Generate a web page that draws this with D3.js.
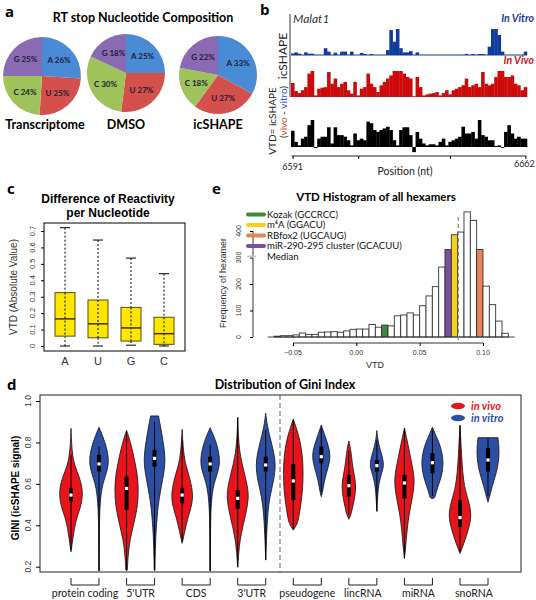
<!DOCTYPE html>
<html><head><meta charset="utf-8">
<script src="https://cdn.jsdelivr.net/npm/d3@7"></script>
<style>body{margin:0;background:#fff} svg{display:block}</style>
</head><body><svg id="c" width="536" height="600"></svg>
<script>
// ---------------- DATA ----------------
// Panel a
const pieNucleotides = ["A","U","C","G"];
const pieSamples = ["Transcriptome","DMSO","icSHAPE"];
const pieTranscriptome = [26,25,24,25];
const pieDMSO = [25,27,30,18];
const pieIcSHAPE = [33,27,18,22];

// Panel b (Malat1 6591-6662, relative signal)
const posStart = 6591, posEnd = 6662;
const posTicks = [6591, 6611, 6639, 6662];
const vitroSignal = [0.06,0.10,0.05,0,0.10,0.05,0.05,0,0,0, 0.26,0.13,0,0.09,0,0.13,0.13,0,0.13,0, 0,0.08,0.04,0,0.04,0,0,0,0,0.19, 0.96,0.51,1.0,0.26,0.10,0.10,0.15,0,0.10,0, 0,0,0,0,0,0,0,0,0,0, 0,0,0,0.04,0,0.04,0,0.04,0.04,0, 0.32,1.0,1.0,0.77,0.13,0,0,0,0,0, 0,0.13];
const vivoSignal = [0.54,0.23,0.15,0.26,0.38,0.90,1.0,0.06,0.32,0.36, 0.38,0.96,0.51,0.71,0.38,0.51,0.58,0.26,0.13,0.58, 0.06,0.32,0.38,0.90,0.51,0.38,0.19,0.45,0.58,0.71, 0.83,1.0,1.0,1.0,0.90,0.77,0.71,0.03,0.77,0.38, 0.06,0.10,0.13,0.15,0.19,0.06,0.15,0.26,0.10,0.26, 0.32,0.38,0.45,0.71,0.38,0.45,0.51,0.38,0.96,0.51, 0.45,0.51,0.77,1.0,1.0,0.77,0.77,0.83,0.51,0.45, 0.26,0.38];
const vtdSignal = [0.60,0.19,0.06,0.31,0.38,0.81,1.0,-0.04,0.31,0.38, 0.38,0.73,0.13,0.73,0.44,0.44,0.38,0.25,0.06,0.50, 0.25,0.31,0.25,0.94,0.88,0.63,0.56,0.63,0.69,0.75, 0.63,0.25,0.06,0.63,0.73,0.73,0.44,-0.19,0.56,0.31, 0.13,0.06,0.10,0.10,0.06,0.19,0.31,0.06,0.19,0.25, 0.31,0.38,0.75,0.50,0.50,0.56,0.31,1.0,0.44,0.38, 0.25,0.25,0.04,0.06,-0.03,0.56,0.81,0.50,0.31,0.38, 0.31,0.31];

// Panel c
const boxNucleotides = ["A","U","G","C"];
const boxWhiskerLow = [0, 0, 0.005, 0];
const boxQ1 = [0.06, 0.05, 0.03, 0.01];
const boxMedian = [0.165, 0.135, 0.11, 0.075];
const boxQ3 = [0.325, 0.28, 0.235, 0.175];
const boxWhiskerHigh = [0.72, 0.645, 0.535, 0.44];
const boxTicks = [0,0.1,0.2,0.3,0.4,0.5,0.6,0.7];

// Panel e
const histBinStart = [-0.065,-0.060,-0.055,-0.050,-0.045,-0.040,-0.035,-0.030,-0.025,-0.020,-0.015,-0.010,-0.005,0.000,0.005,0.010,0.015,0.020,0.025,0.030,0.035,0.040,0.045,0.050,0.055,0.060,0.065,0.070,0.075,0.080,0.085,0.090,0.095,0.100,0.105,0.110,0.115];
const histCounts = [3,5,5,8,15,9,10,18,19,20,18,23,29,30,30,47,37,45,42,80,83,91,83,118,155,190,264,330,386,396,472,440,330,192,122,60,14];
const histBinWidth = 0.005;
const histMedian = 0.0805;
const motifNames = ["Kozak (GCCRCC)","m\u2076A (GGACU)","RBfox2 (UGCAUG)","miR-290-295 cluster (GCACUU)"];
const motifBins = [0.020, 0.075, 0.095, 0.070];
const histXTicks = [-0.05, 0.00, 0.05, 0.10];
const histYTicks = [0,100,200,300,400];

// Panel d
const giniGroups = ["protein coding","5'UTR","CDS","3'UTR","pseudogene","lincRNA","miRNA","snoRNA"];
const giniTicks = [0.2,0.4,0.6,0.8,1.0];
// density profiles [gini, relative density]
const vivoProfiles = [
 [[0.868,0],[0.748,0.08],[0.683,0.33],[0.635,0.69],[0.586,0.92],[0.546,0.97],[0.49,0.83],[0.442,0.5],[0.385,0.28],[0.329,0.14],[0.272,0]],
 [[0.857,0],[0.812,0.28],[0.731,0.61],[0.651,0.89],[0.578,1.0],[0.49,0.92],[0.409,0.61],[0.329,0.28],[0.264,0.14],[0.184,0.06]],
 [[0.863,0],[0.748,0.11],[0.683,0.33],[0.619,0.69],[0.546,0.92],[0.49,0.78],[0.425,0.42],[0.369,0.22],[0.313,0]],
 [[0.921,0],[0.812,0.06],[0.731,0.22],[0.651,0.56],[0.586,0.83],[0.53,0.92],[0.458,0.69],[0.393,0.42],[0.329,0.19],[0.264,0.08],[0.197,0]],
 [[0.912,0],[0.876,0.22],[0.812,0.56],[0.731,0.78],[0.651,0.83],[0.57,0.78],[0.49,0.61],[0.425,0.42],[0.401,0.28],[0.377,0]],
 [[0.807,0],[0.764,0.17],[0.699,0.28],[0.651,0.42],[0.595,0.61],[0.538,0.5],[0.49,0.33],[0.45,0.17],[0.429,0]],
 [[0.868,0],[0.812,0.22],[0.731,0.5],[0.651,0.78],[0.603,0.83],[0.538,0.69],[0.458,0.39],[0.377,0.22],[0.297,0.11],[0.24,0]],
 [[0.884,0],[0.764,0.11],[0.651,0.22],[0.57,0.42],[0.506,0.78],[0.442,0.97],[0.377,0.69],[0.329,0.42],[0.289,0.17],[0.264,0]]
];
const vitroProfiles = [
 [[0.873,0],[0.828,0.33],[0.78,0.61],[0.731,0.78],[0.691,0.78],[0.651,0.61],[0.603,0.33],[0.554,0.17],[0.49,0.08],[0.409,0.03],[0.18,0.02]],
 [[0.928,0.33],[0.876,0.5],[0.812,0.69],[0.723,0.92],[0.651,0.78],[0.57,0.5],[0.49,0.28],[0.409,0.17],[0.329,0.08],[0.184,0.03]],
 [[0.871,0],[0.828,0.33],[0.78,0.61],[0.731,0.78],[0.691,0.78],[0.651,0.61],[0.603,0.33],[0.554,0.17],[0.49,0.08],[0.409,0.03],[0.18,0.02]],
 [[0.941,0],[0.876,0.14],[0.812,0.42],[0.748,0.69],[0.691,0.83],[0.619,0.69],[0.538,0.33],[0.458,0.17],[0.361,0.08],[0.232,0]],
 [[0.884,0],[0.828,0.33],[0.78,0.61],[0.739,0.75],[0.699,0.67],[0.651,0.42],[0.603,0.22],[0.562,0.11],[0.538,0]],
 [[0.857,0],[0.796,0.11],[0.739,0.42],[0.691,0.61],[0.651,0.39],[0.603,0.17],[0.554,0.08],[0.466,0]],
 [[0.873,0],[0.828,0.33],[0.78,0.69],[0.715,0.92],[0.651,0.83],[0.603,0.56],[0.554,0.28],[0.53,0.2],[0.529,0]],
 [[0.823,0.83],[0.78,0.92],[0.715,0.92],[0.651,0.69],[0.586,0.33],[0.538,0.14],[0.511,0]]
];
// [whiskerLow, Q1, median, Q3, whiskerHigh]
const vivoStats = [
 [0.28,0.514,0.546,0.578,0.74],[0.18,0.474,0.578,0.635,0.857],[0.32,0.506,0.546,0.578,0.81],[0.2,0.48,0.53,0.57,0.92],
 [0.38,0.522,0.614,0.696,0.91],[0.45,0.539,0.591,0.643,0.76],[0.24,0.53,0.604,0.643,0.87],[0.27,0.393,0.437,0.522,0.88]
];
const vitroStats = [
 [0.18,0.66,0.696,0.74,0.78],[0.18,0.683,0.723,0.764,0.90],[0.18,0.659,0.696,0.731,0.79],[0.232,0.66,0.691,0.731,0.86],
 [0.56,0.70,0.731,0.78,0.87],[0.47,0.659,0.688,0.715,0.81],[0.54,0.651,0.702,0.748,0.86],[0.54,0.659,0.715,0.772,0.82]
];

// ---------------- DRAW ----------------
const svg = d3.select("#c");
const SANS = "Lato, 'Open Sans', sans-serif";
const RF = "'Liberation Sans', Arial, sans-serif";

function txt(x,y,s,o={}){
  const t = svg.append("text").attr("x",x).attr("y",y).text(s)
    .style("font-family",o.ff||SANS).style("font-size",(o.fs||10)+"px")
    .style("font-weight",o.fw||"normal").style("font-style",o.fst||"normal")
    .attr("fill",o.fill||"#000").attr("text-anchor",o.a||"start");
  if(o.rot!=null) t.attr("transform",`rotate(${o.rot},${x},${y})`);
  return t;
}

// panel letters
[["a",5,17],["b",260,15],["c",7,194],["e",212,194],["d",7,390]].forEach(d=>txt(d[1],d[2],d[0],{fs:15,fw:"bold",ff:"'Open Sans',sans-serif"}));

// ---- Panel a ----
txt(143,22,"RT stop Nucleotide Composition",{fs:12.5,fw:"bold",a:"middle"});
const pieColors = d3.scaleOrdinal().domain(pieNucleotides).range(["#4a8bd6","#d4504c","#9fc25a","#8a6bb3"]);
const pieCenters = [[42,76],[126,73],[218,75]];
const pieR = 39;
const pieSets = [pieTranscriptome, pieDMSO, pieIcSHAPE];
const pieGen = d3.pie().sort(null).value(d=>d.v);
const arcGen = d3.arc().innerRadius(0).outerRadius(pieR);
const labArc = d3.arc().innerRadius(pieR*0.6).outerRadius(pieR*0.6);
pieSets.forEach((vals,i)=>{
  const g = svg.append("g").attr("transform",`translate(${pieCenters[i][0]},${pieCenters[i][1]})`);
  const arcs = pieGen(vals.map((v,j)=>({v,n:pieNucleotides[j]})));
  g.selectAll("path").data(arcs).join("path").attr("d",arcGen).attr("fill",d=>pieColors(d.data.n));
  g.selectAll("text").data(arcs).join("text")
    .attr("transform",d=>`translate(${labArc.centroid(d)})`).attr("dy","0.35em")
    .attr("text-anchor","middle").style("font-family",SANS).style("font-size","8px").style("font-weight","bold")
    .attr("fill","#1b1b33").text(d=>`${d.data.n} ${d.data.v}%`);
  txt(pieCenters[i][0]+(i===0?3:0), 129, pieSamples[i], {fs:12.5, fw:"bold", a:"middle"});
});

// ---- Panel b ----
const xb = d3.scaleLinear().domain([posStart-0.5, posEnd+0.5]).range([291, 527]);
const positions = d3.range(posStart, posEnd+1);
const yVitro = d3.scaleLinear().domain([0,1]).range([55,29]);
const yVivo = d3.scaleLinear().domain([0,1]).range([97,71]);
const yVtd = d3.scaleLinear().domain([0,1]).range([147,120]);
svg.append("line").attr("x1",290).attr("x2",290).attr("y1",14).attr("y2",97).attr("stroke","#777").attr("stroke-width",1.5);
function track(vals, ys, col){
  svg.append("g").selectAll("rect").data(vals).join("rect")
    .attr("x",(d,i)=>xb(positions[i]-0.5)).attr("width",(d,i)=>xb(positions[i]+0.5)-xb(positions[i]-0.5)+0.3)
    .attr("y",d=>Math.min(ys(d),ys(0))).attr("height",d=>Math.abs(ys(d)-ys(0)))
    .attr("fill",col);
}
track(vitroSignal,yVitro,"#0f3b9c");
svg.append("line").attr("x1",xb(posStart-0.5)).attr("x2",xb(posEnd+0.5)).attr("y1",yVitro(0)).attr("y2",yVitro(0)).attr("stroke","#0f3b9c").attr("stroke-width",1);
track(vivoSignal,yVivo,"#cc0a0a");
track(vtdSignal,yVtd,"#000");
txt(293,23,"Malat1",{fs:12,fst:"italic",fill:"#333"});
txt(534,22,"In Vitro",{fs:10.5,fw:"bold",fst:"italic",fill:"#1f3a93",a:"end"});
txt(534,64,"In Vivo",{fs:10.5,fw:"bold",fst:"italic",fill:"#d0101a",a:"end"});
txt(287,56,"icSHAPE",{fs:12,a:"middle",rot:-90,fill:"#222"});
txt(276,121,"VTD= icSHAPE",{fs:10,a:"middle",rot:-90,fill:"#222"});
const vt = svg.append("text").attr("x",287).attr("y",112).attr("text-anchor","middle")
  .attr("transform","rotate(-90,287,112)").style("font-family",SANS).style("font-size","10px");
vt.append("tspan").text("(").attr("fill","#222");
vt.append("tspan").text("vivo").attr("fill","#e0502a");
vt.append("tspan").text(" - ").attr("fill","#222");
vt.append("tspan").text("vitro").attr("fill","#3355cc");
vt.append("tspan").text(")").attr("fill","#222");
svg.append("g").attr("transform","translate(0,156)")
  .call(d3.axisBottom(xb).tickValues(posTicks).tickSize(3).tickFormat(""))
  .call(g=>g.select(".domain").attr("d",`M${xb(posStart)-1},0H${xb(posEnd)+1}`).attr("stroke","#222"));
txt(xb(posStart),170,String(posStart),{fs:9,a:"middle",fill:"#222"});
txt(xb(posEnd)-1,167,String(posEnd),{fs:9,a:"middle",fill:"#222"});
txt(405,175,"Position (nt)",{fs:10.5,a:"middle",fill:"#222"});

// ---- Panel c ----
txt(108,203,"Difference of Reactivity",{fs:12,fw:"bold",a:"middle",ff:RF});
txt(108,217,"per Nucleotide",{fs:12,fw:"bold",a:"middle",ff:RF});
const yc = d3.scaleLinear().domain([0,0.7]).range([346,231]);
const xc = d3.scalePoint().domain(boxNucleotides).range([65,164]);
svg.append("rect").attr("x",44).attr("y",223).attr("width",141).attr("height",128).attr("fill","none").attr("stroke","#000");
svg.append("g").attr("transform","translate(44,0)")
  .call(d3.axisLeft(yc).tickValues(boxTicks).tickSize(3).tickFormat(""))
  .call(g=>g.select(".domain").remove());
boxTicks.forEach(t=>txt(35,yc(t),d3.format("")(t),{fs:7.5,a:"middle",rot:-90,ff:RF,fill:"#333"}));
txt(17,287,"VTD (Absolute Value)",{fs:10,a:"middle",rot:-90,ff:RF,fill:"#333"});
boxNucleotides.forEach((n,i)=>{
  const cx = xc(n), hw=10;
  const g = svg.append("g");
  g.append("line").attr("x1",cx).attr("x2",cx).attr("y1",yc(boxWhiskerHigh[i])).attr("y2",yc(boxQ3[i])).attr("stroke","#000").attr("stroke-dasharray","2,2");
  g.append("line").attr("x1",cx).attr("x2",cx).attr("y1",yc(boxQ1[i])).attr("y2",yc(boxWhiskerLow[i])).attr("stroke","#000").attr("stroke-dasharray","2,2");
  [boxWhiskerHigh[i],boxWhiskerLow[i]].forEach(v=>g.append("line").attr("x1",cx-5).attr("x2",cx+5).attr("y1",yc(v)).attr("y2",yc(v)).attr("stroke","#000"));
  g.append("rect").attr("x",cx-hw).attr("width",2*hw).attr("y",yc(boxQ3[i])).attr("height",yc(boxQ1[i])-yc(boxQ3[i]))
    .attr("fill","#ffe600").attr("stroke","#5a4a10").attr("stroke-width",1);
  g.append("line").attr("x1",cx).attr("x2",cx).attr("y1",yc(boxQ3[i])).attr("y2",yc(boxQ1[i])).attr("stroke","#000").attr("stroke-dasharray","2,2");
  g.append("line").attr("x1",cx-hw).attr("x2",cx+hw).attr("y1",yc(boxMedian[i])).attr("y2",yc(boxMedian[i])).attr("stroke","#3a3000").attr("stroke-width",1.5);
  txt(cx,365,n,{fs:11,a:"middle",ff:RF,fill:"#333"});
});

// ---- Panel e ----
txt(376,201,"VTD Histogram of all hexamers",{fs:11.5,fw:"bold",a:"middle"});
const xe = d3.scaleLinear().domain([-0.05,0.10]).range([293,483]);
const ye = d3.scaleLinear().domain([0,400]).range([337,231]);
const motifColors = ["#3f8a3c","#f7d117","#e8825a","#7a4f9c"];
const colorOfBin = b => { const k = motifBins.findIndex(m=>Math.abs(m-b)<1e-9); return k<0?"#fff":motifColors[k]; };
svg.append("g").selectAll("rect").data(histCounts).join("rect")
  .attr("x",(d,i)=>xe(histBinStart[i])).attr("width",(d,i)=>xe(histBinStart[i]+histBinWidth)-xe(histBinStart[i]))
  .attr("y",d=>ye(d)).attr("height",d=>ye(0)-ye(d))
  .attr("fill",(d,i)=>colorOfBin(histBinStart[i])).attr("stroke","#333").attr("stroke-width",0.9);
svg.append("line").attr("x1",xe(-0.07)).attr("x2",xe(0.125)).attr("y1",ye(0)).attr("y2",ye(0)).attr("stroke","#333").attr("stroke-width",0.9);
svg.append("line").attr("x1",xe(histMedian)).attr("x2",xe(histMedian)).attr("y1",217).attr("y2",ye(0)+6)
  .attr("stroke","#888").attr("stroke-width",1.2).attr("stroke-dasharray","4,3");
svg.append("g").attr("transform","translate(0,343)")
  .call(d3.axisBottom(xe).tickValues(histXTicks).tickSize(3).tickFormat(""))
  .call(g=>g.select(".domain").attr("d",`M${xe(-0.05)},0H${xe(0.10)}`).attr("stroke","#333"));
histXTicks.forEach(t=>txt(xe(t),355,d3.format(".2f")(t),{fs:7,a:"middle",ff:RF,fill:"#333"}));
txt(375,368,"VTD",{fs:9,a:"middle",ff:RF,fill:"#333"});
svg.append("g").attr("transform","translate(253,0)")
  .call(d3.axisLeft(ye).tickValues(histYTicks).tickSize(3).tickFormat(""))
  .call(g=>g.select(".domain").attr("d",`M0,${ye(0)}V${ye(400)}`).attr("stroke","#333"));
histYTicks.forEach(t=>txt(241,ye(t),String(t),{fs:7,a:"middle",rot:-90,ff:RF,fill:"#333"}));
txt(226,283,"Frequency of hexamer",{fs:9,a:"middle",rot:-90,ff:RF,fill:"#333"});
const legY = [214.5,225,235.5,246,256.5];
motifNames.concat(["Median"]).forEach((n,i)=>{
  const isMed = i===4;
  svg.append("line").attr("x1",248).attr("x2",isMed?255:264).attr("y1",legY[i]).attr("y2",legY[i])
    .attr("stroke",isMed?"#c8c8c8":motifColors[i]).attr("stroke-width",isMed?2:4).attr("stroke-linecap","round");
  txt(267,legY[i]+3.3,n,{fs:9.6,fill:"#111"});
});

// ---- Panel d ----
txt(285,389,"Distribution of Gini Index",{fs:12.5,fw:"bold",a:"middle"});
const yd = d3.scaleLinear().domain([0.2,1.0]).range([566.7,401]);
const xd = d3.scalePoint().domain(giniGroups).range([85,474]);
const wd = d3.scaleLinear().domain([0,1]).range([0,12]);
const off = 14;
const defs = svg.append("defs");
defs.append("clipPath").attr("id","dclip").append("rect").attr("x",40).attr("y",395).attr("width",481).attr("height",177);
svg.append("line").attr("x1",280).attr("x2",280).attr("y1",395).attr("y2",572).attr("stroke","#999").attr("stroke-width",1.5).attr("stroke-dasharray","5,3");
const violinG = svg.append("g").attr("clip-path","url(#dclip)");
function violin(cx, prof, st, col){
  const area = d3.area().curve(d3.curveBasis).y(d=>yd(d[0])).x0(d=>cx-wd(d[1])).x1(d=>cx+wd(d[1]));
  violinG.append("path").attr("d",area(prof)).attr("fill",col).attr("stroke","#111").attr("stroke-width",0.8);
  violinG.append("line").attr("x1",cx).attr("x2",cx).attr("y1",yd(st[0])).attr("y2",yd(st[4])).attr("stroke","#000").attr("stroke-width",1);
  violinG.append("rect").attr("x",cx-2).attr("width",4).attr("y",yd(st[3])).attr("height",yd(st[1])-yd(st[3])).attr("fill","#000");
  violinG.append("rect").attr("x",cx-1.6).attr("width",3.2).attr("y",yd(st[2])-1.6).attr("height",3.2).attr("fill","#fff");
}
giniGroups.forEach((gname,i)=>{
  violin(xd(gname)-off, vivoProfiles[i], vivoStats[i], "#e8141c");
  violin(xd(gname)+off, vitroProfiles[i], vitroStats[i], "#2c4ea3");
  const g = svg.append("g").attr("fill","none").attr("stroke","#222");
  g.append("path").attr("d",`M${xd(gname)-off},578V585H${xd(gname)+off}V578`);
  txt(xd(gname),597,gname,{fs:10.5,a:"middle",fill:"#222"});
});
svg.append("rect").attr("x",40).attr("y",395).attr("width",481).attr("height",177).attr("fill","none").attr("stroke","#222");
svg.append("g").attr("transform","translate(40,0)")
  .call(d3.axisLeft(yd).tickValues(giniTicks).tickSize(4).tickFormat(""))
  .call(g=>g.select(".domain").remove());
giniTicks.forEach(t=>txt(31,yd(t),d3.format(".1f")(t),{fs:8.5,a:"middle",rot:-90,ff:RF,fill:"#333"}));
txt(19,488,"GINI (icSHAPE signal)",{fs:10,fw:"bold",a:"middle",rot:-90,ff:RF});
svg.append("ellipse").attr("cx",458).attr("cy",406).attr("rx",7).attr("ry",3.2).attr("fill","#e8141c");
svg.append("ellipse").attr("cx",458).attr("cy",418).attr("rx",7).attr("ry",3.2).attr("fill","#2c4ea3");
txt(471,410,"in vivo",{fs:11,fw:"bold",fst:"italic",fill:"#e8141c"});
txt(471,422,"in vitro",{fs:11,fw:"bold",fst:"italic",fill:"#2c4ea3"});
</script></body></html>
